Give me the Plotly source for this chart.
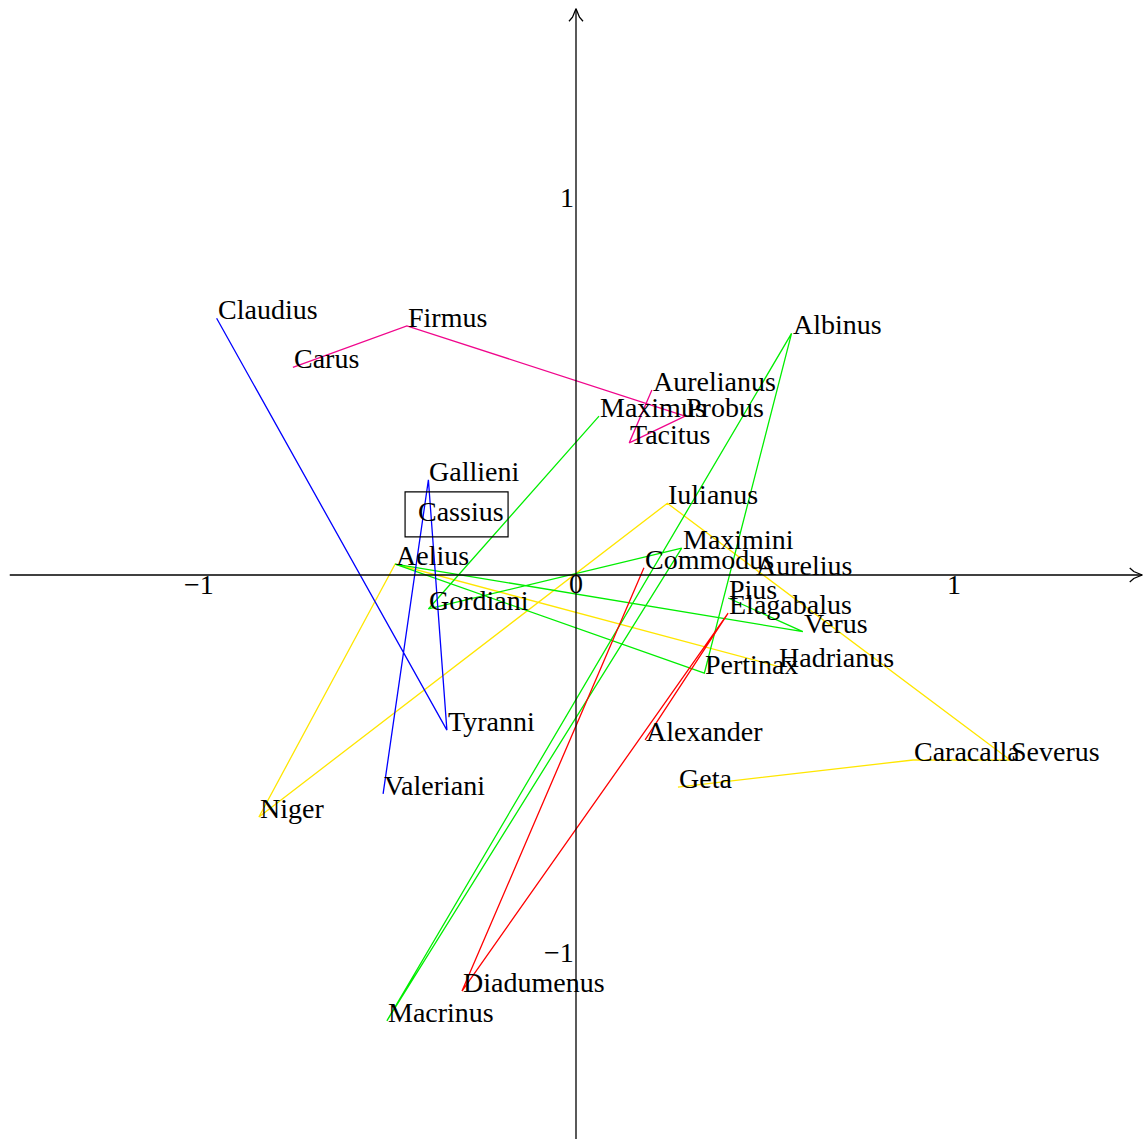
import plotly.graph_objects as go

# Correspondence-analysis map of the Historia Augusta lives (first two axes)
lives = ["Claudius", "Carus", "Firmus", "Aurelianus", "Probus", "Tacitus",
         "Maximus", "Albinus", "Gallieni", "Cassius", "Iulianus", "Maximini",
         "Aelius", "Commodus", "Aurelius", "Gordiani", "Pius", "Elagabalus",
         "Verus", "Hadrianus", "Pertinax", "Tyranni", "Alexander", "Caracalla",
         "Severus", "Geta", "Valeriani", "Niger", "Diadumenus", "Macrinus"]
dim1 = [-0.952, -0.750, -0.448, 0.201, 0.289, 0.141,
        0.061, 0.571, -0.391, -0.421, 0.242, 0.280,
        -0.479, 0.180, 0.474, -0.391, 0.403, 0.403,
        0.601, 0.535, 0.340, -0.342, 0.183, 0.893,
        1.150, 0.270, -0.511, -0.840, -0.302, -0.501]
dim2 = [0.680, 0.550, 0.660, 0.490, 0.421, 0.350,
        0.421, 0.640, 0.252, 0.146, 0.190, 0.071,
        0.029, 0.019, 0.003, -0.090, -0.061, -0.101,
        -0.150, -0.242, -0.260, -0.411, -0.437, -0.490,
        -0.490, -0.562, -0.580, -0.641, -1.102, -1.181]

# Lives joined in sequence for each attributed author
spartianus = ["Hadrianus", "Aelius", "Niger", "Iulianus", "Severus", "Caracalla", "Geta"]
capitolinus = ["Pius", "Verus", "Aelius", "Pertinax", "Albinus", "Macrinus",
               "Maximini", "Gordiani", "Maximus"]
lampridius = ["Commodus", "Diadumenus", "Elagabalus", "Alexander"]
pollio = ["Valeriani", "Gallieni", "Tyranni", "Claudius"]
vopiscus = ["Aurelianus", "Tacitus", "Probus", "Firmus", "Carus"]
boxed = "Cassius"

tick_values = [-1, 1]
tick_labels = ["\u22121", "1"]

W, H = 1145, 1139
SCALE = 377.5           # pixels per unit
OX, OY = 576, 575       # pixel position of the origin
AXIS_LIMIT = 1.5
FONT = dict(family="Liberation Serif, Times New Roman, serif", size=28, color="black")

pos = {n: (x, y) for n, x, y in zip(lives, dim1, dim2)}


def px(n):
    """Convert a length in pixels to plot units."""
    return n / SCALE


fig = go.Figure()

paths = [(spartianus, "#ffe600"), (capitolinus, "#00ee00"), (lampridius, "#ff0000"),
         (pollio, "#0000ff"), (vopiscus, "#f0068c")]
for seq, colour in paths:
    fig.add_trace(go.Scatter(
        x=[pos[n][0] for n in seq], y=[pos[n][1] for n in seq],
        mode="lines", line=dict(color=colour, width=1.3),
        hoverinfo="skip", showlegend=False))

# Axes with open, slightly curved arrow tips
axis_style = dict(color="black", width=1.3)
shapes = [
    dict(type="line", xref="x", yref="y", x0=-AXIS_LIMIT, y0=0, x1=AXIS_LIMIT, y1=0, line=axis_style),
    dict(type="line", xref="x", yref="y", x0=0, y0=-AXIS_LIMIT, x1=0, y1=AXIS_LIMIT, line=axis_style),
]
barb = [(0, 0), (1.2, 3.5), (3.5, 8.5), (7, 12.5)]   # (sideways, back from tip) in px
for side in (1, -1):
    fig.add_trace(go.Scatter(
        x=[AXIS_LIMIT - px(back) for _, back in barb],
        y=[side * px(sw) for sw, _ in barb],
        mode="lines", line=axis_style, hoverinfo="skip", showlegend=False))
    fig.add_trace(go.Scatter(
        x=[side * px(sw) for sw, _ in barb],
        y=[AXIS_LIMIT - px(back) for _, back in barb],
        mode="lines", line=axis_style, hoverinfo="skip", showlegend=False))

# Frame round the boxed life
bx, by = pos[boxed]
shapes.append(dict(type="rect", xref="x", yref="y",
                   x0=bx - px(12), x1=bx + px(91), y0=by - px(17), y1=by + px(28),
                   line=dict(color="black", width=1.2)))

annotations = []
for n, x, y in zip(lives, dim1, dim2):
    annotations.append(dict(x=x, y=y, text=n, showarrow=False, xanchor="left",
                            yanchor="bottom", borderpad=0, yshift=-8, font=FONT))
for v, t in zip(tick_values, tick_labels):
    annotations.append(dict(x=v, y=0, text=t, showarrow=False, xanchor="center",
                            yanchor="top", borderpad=0, yshift=7, font=FONT))
    annotations.append(dict(x=0, y=v, text=t, showarrow=False, xanchor="right",
                            yanchor="middle", borderpad=0, xshift=-1, font=FONT))
annotations.append(dict(x=0, y=0, text="0", showarrow=False, xanchor="center",
                        yanchor="top", borderpad=0, yshift=8, font=FONT))

fig.update_layout(
    width=W, height=H, autosize=False,
    margin=dict(l=0, r=0, t=0, b=0, pad=0),
    paper_bgcolor="white", plot_bgcolor="white",
    xaxis=dict(range=[-OX / SCALE, (W - OX) / SCALE], visible=False, fixedrange=True),
    yaxis=dict(range=[-(H - OY) / SCALE, OY / SCALE], visible=False, fixedrange=True),
    shapes=shapes, annotations=annotations, showlegend=False,
)

fig.write_html("out.html")
